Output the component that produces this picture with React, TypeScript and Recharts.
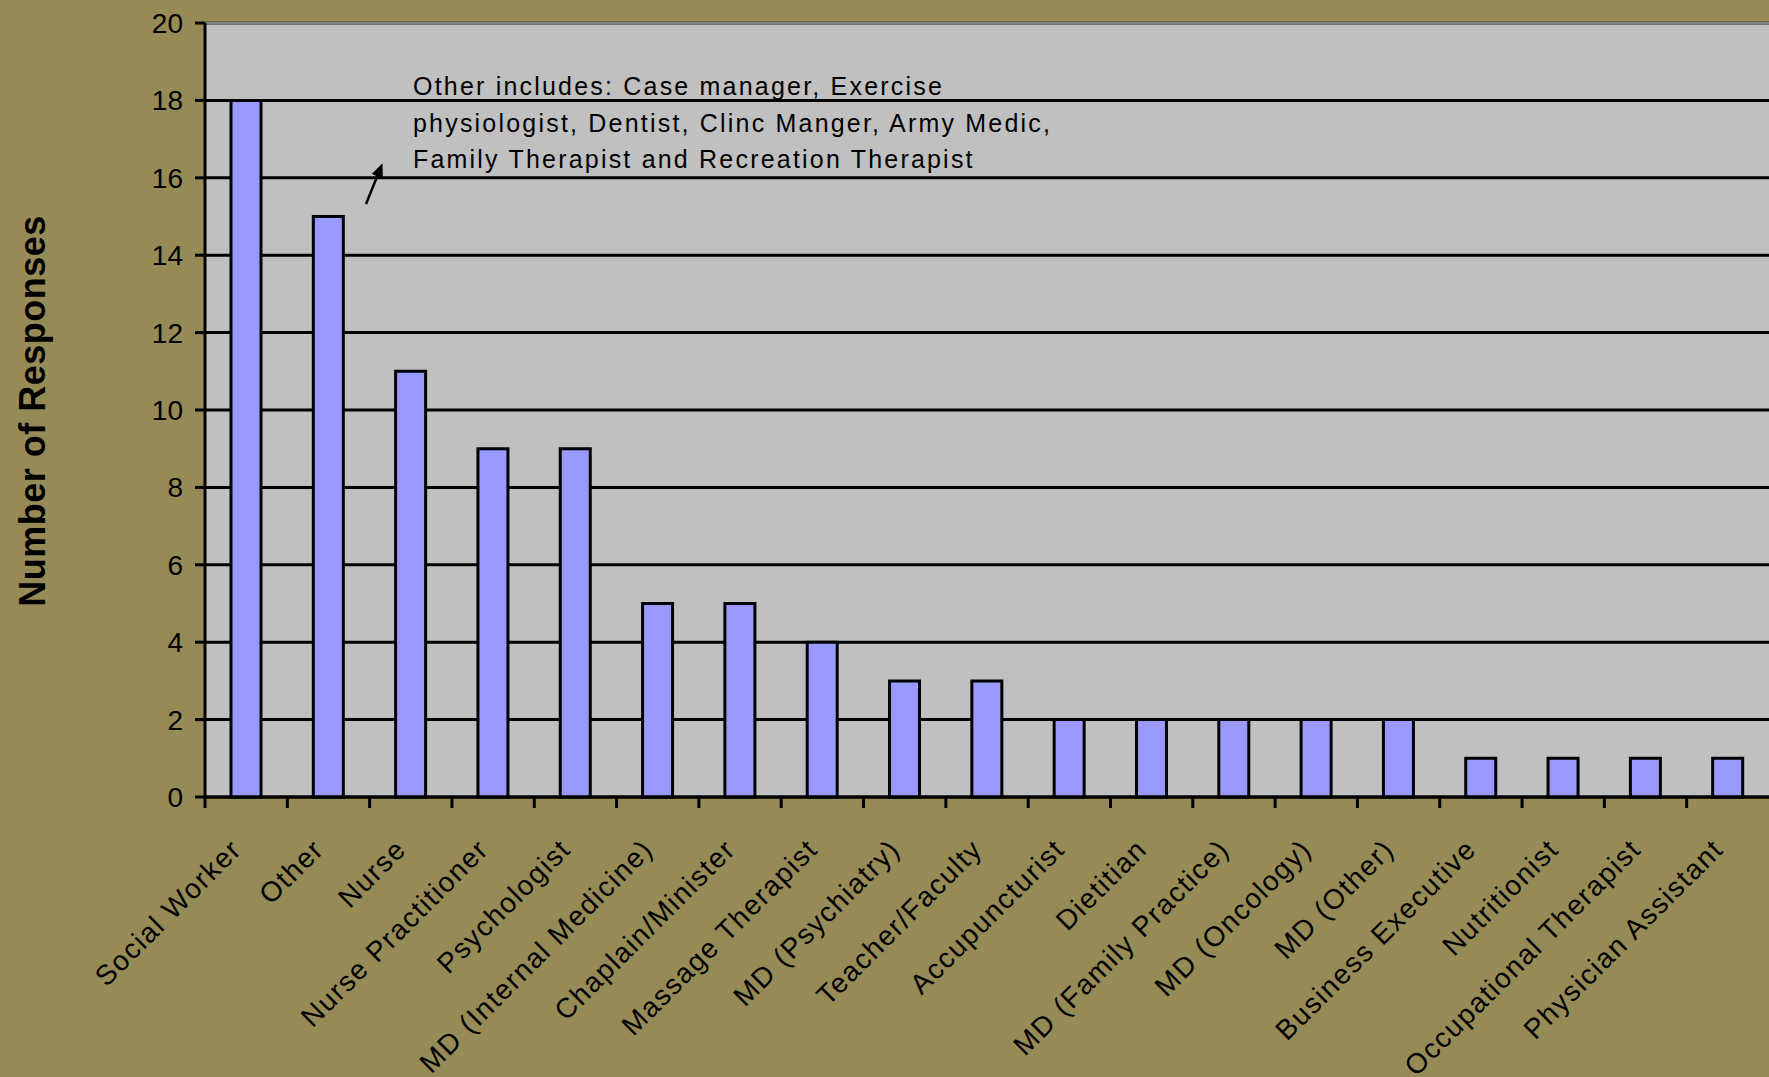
import { Bar, BarChart, CartesianGrid, ReferenceLine, XAxis, YAxis } from "recharts";

const categories = [
  "Social Worker",
  "Other",
  "Nurse",
  "Nurse Practitioner",
  "Psychologist",
  "MD (Internal Medicine)",
  "Chaplain/Minister",
  "Massage Therapist",
  "MD (Psychiatry)",
  "Teacher/Faculty",
  "Accupuncturist",
  "Dietitian",
  "MD (Family Practice)",
  "MD (Oncology)",
  "MD (Other)",
  "Business Executive",
  "Nutritionist",
  "Occupational Therapist",
  "Physician Assistant",
];

const responses = [18, 15, 11, 9, 9, 5, 5, 4, 3, 3, 2, 2, 2, 2, 2, 1, 1, 1, 1];

const yTicks = [0, 2, 4, 6, 8, 10, 12, 14, 16, 18, 20];

const noteLines = [
  "Other includes: Case manager, Exercise",
  "physiologist, Dentist, Clinc Manger, Army Medic,",
  "Family Therapist and Recreation Therapist",
];

const data = categories.map((name, i) => ({ name, value: responses[i] }));

const W = 1769;
const H = 1077;
const PLOT_LEFT = 205;
const BAND = (W - PLOT_LEFT) / categories.length;
const FONT = "'Liberation Sans', Arial, Helvetica, sans-serif";
const OLIVE = "#968B56";

function CategoryTick(props: any) {
  const { x, y, payload } = props;
  return (
    <g>
      <line x1={x - BAND / 2} y1={y} x2={x - BAND / 2} y2={y + 11} stroke="#000" strokeWidth={3} />
      <g transform={`translate(${x - 3},${y + 54})`}>
        <text
          transform="rotate(-45)"
          textAnchor="end"
          fontFamily={FONT}
          fontSize={28}
          letterSpacing={1.5}
          fill="#000"
        >
          {payload.value}
        </text>
      </g>
    </g>
  );
}

export default function App() {
  return (
    <div style={{ position: "absolute", left: 0, top: 0, width: W, height: H, background: OLIVE }}>
      <BarChart
        width={W}
        height={H}
        data={data}
        margin={{ top: 23, right: 0, left: 0, bottom: 0 }}
        barSize={30}
      >
        <CartesianGrid vertical={false} stroke="#000" strokeWidth={3} fill="#C0C0C0" fillOpacity={1} />
        <XAxis
          dataKey="name"
          interval={0}
          height={280}
          tickLine={false}
          tickSize={0}
          tickMargin={0}
          axisLine={{ stroke: "#000", strokeWidth: 3 }}
          tick={<CategoryTick />}
        />
        <YAxis
          width={PLOT_LEFT}
          domain={[0, 20]}
          ticks={yTicks}
          interval={0}
          tickSize={10}
          tickMargin={12}
          axisLine={{ stroke: "#000", strokeWidth: 3 }}
          tickLine={{ stroke: "#000", strokeWidth: 3 }}
          tick={{ fill: "#000", fontSize: 28, fontFamily: FONT }}
        />
        <ReferenceLine y={20} stroke="#808080" strokeWidth={3} />
        <Bar dataKey="value" fill="#9999FF" stroke="#000" strokeWidth={3} isAnimationActive={false} />
      </BarChart>
      <svg
        width={W}
        height={H}
        style={{ position: "absolute", left: 0, top: 0, pointerEvents: "none" }}
      >
        <defs>
          <marker id="head" markerWidth="14" markerHeight="12" refX="10" refY="6" orient="auto" markerUnits="userSpaceOnUse">
            <path d="M0,0 L14,6 L0,12 Z" fill="#000" />
          </marker>
        </defs>
        <text
          transform="translate(45,411) rotate(-90)"
          textAnchor="middle"
          fontFamily={FONT}
          fontWeight="bold"
          fontSize={36}
          letterSpacing={0.5}
          fill="#000"
        >
          Number of Responses
        </text>
        <line x1={366} y1={204} x2={381} y2={167} stroke="#000" strokeWidth={2.5} markerEnd="url(#head)" />
        {noteLines.map((line, i) => (
          <text
            key={i}
            x={413}
            y={95 + i * 36.5}
            fontFamily={FONT}
            fontSize={25}
            letterSpacing={2.2}
            fill="#000"
          >
            {line}
          </text>
        ))}
      </svg>
    </div>
  );
}
